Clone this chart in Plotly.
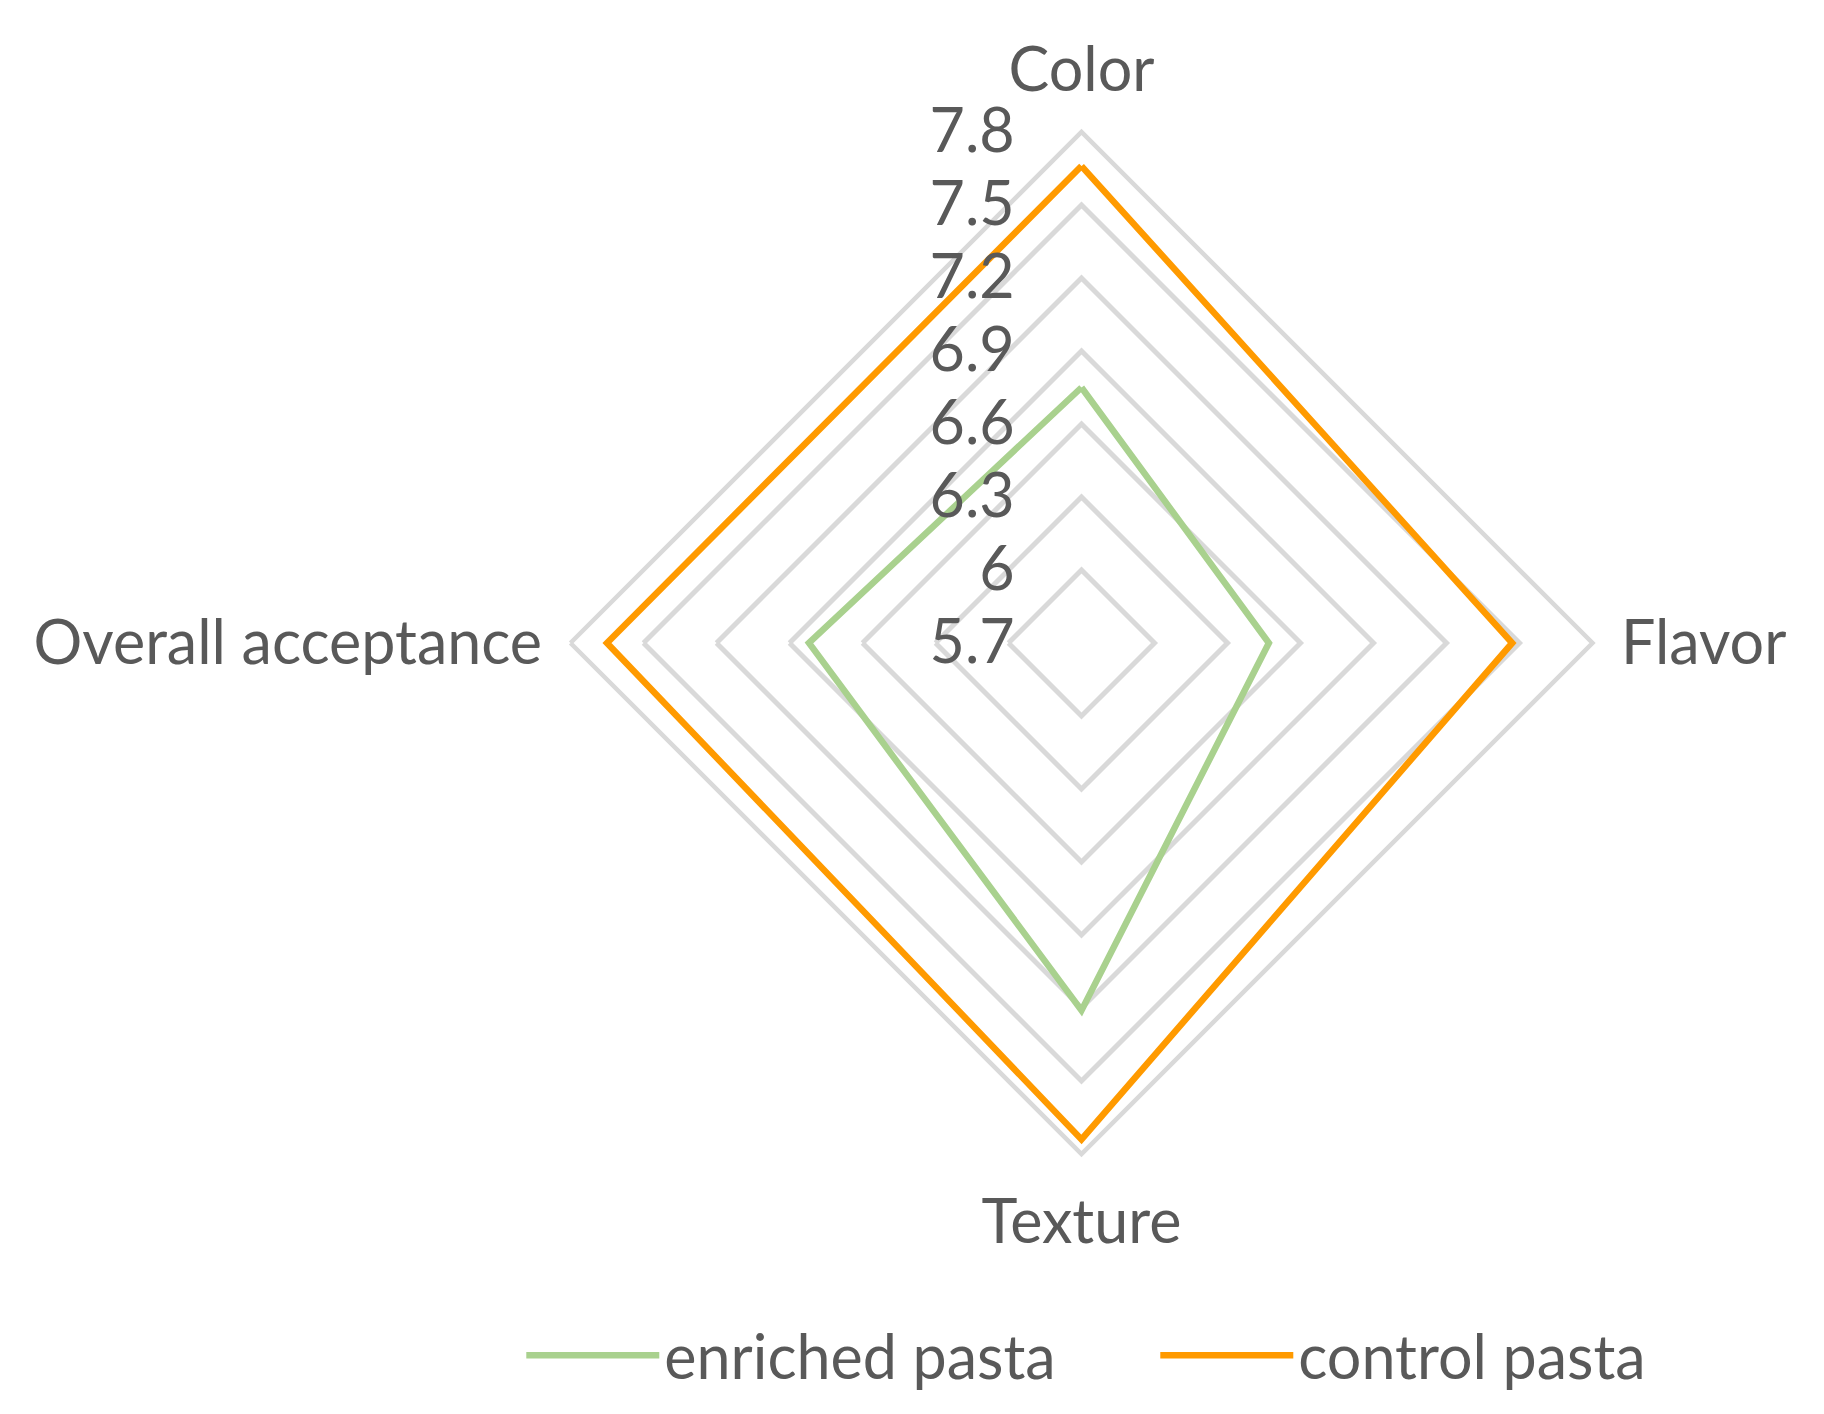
import plotly.graph_objects as go

categories = ["Color", "Flavor", "Texture", "Overall acceptance"]
enriched = [6.75, 6.47, 7.21, 6.82]
control = [7.66, 7.47, 7.74, 7.65]
radial_ticks = [5.7, 6.0, 6.3, 6.6, 6.9, 7.2, 7.5, 7.8]
radial_labels = ["5.7", "6", "6.3", "6.6", "6.9", "7.2", "7.5", "7.8"]

FONT = "Lato"
TXT = "#595959"
GRID = "#d9d9d9"
FS = 61

fig = go.Figure()
fig.add_trace(go.Scatterpolar(
    r=enriched + enriched[:1], theta=categories + categories[:1],
    mode="lines", name="enriched pasta",
    line=dict(color="#a9d18e", width=6.5)))
fig.add_trace(go.Scatterpolar(
    r=control + control[:1], theta=categories + categories[:1],
    mode="lines", name="control pasta",
    line=dict(color="#ff9a00", width=6.5)))

W, H = 1824, 1414
cx, cy, R = 1073.5, 635, 511
fig.update_layout(
    width=W, height=H,
    margin=dict(l=0, r=0, t=0, b=0),
    paper_bgcolor="white", plot_bgcolor="white",
    font=dict(family=FONT, color=TXT, size=FS),
    polar=dict(
        domain=dict(x=[(cx - R) / W, (cx + R) / W], y=[1 - (cy + R) / H, 1 - (cy - R) / H]),
        bgcolor="white",
        gridshape="linear",
        angularaxis=dict(
            rotation=90, direction="clockwise",
            showgrid=False, showline=True, linecolor=GRID, linewidth=4.5,
            ticks="outside", ticklen=14, tickcolor="rgba(0,0,0,0)",
            tickfont=dict(family=FONT, size=FS, color=TXT)),
        radialaxis=dict(
            range=[5.7, 7.8], angle=90, tickangle=90, side="counterclockwise",
            tickmode="array", tickvals=radial_ticks, ticktext=radial_labels,
            showline=False, showgrid=True, gridcolor=GRID, gridwidth=4.5,
            ticks="outside", ticklen=45, tickcolor="rgba(0,0,0,0)",
            tickfont=dict(family=FONT, size=FS, color=TXT)),
    ),
    showlegend=True,
    legend=dict(orientation="h", x=0.629, y=0.047, xanchor="center", yanchor="middle",
                font=dict(family=FONT, size=FS, color=TXT), itemwidth=133,
                entrywidth=486, entrywidthmode="pixels",
                bgcolor="rgba(0,0,0,0)"),
)

fig.write_html("out.html")
